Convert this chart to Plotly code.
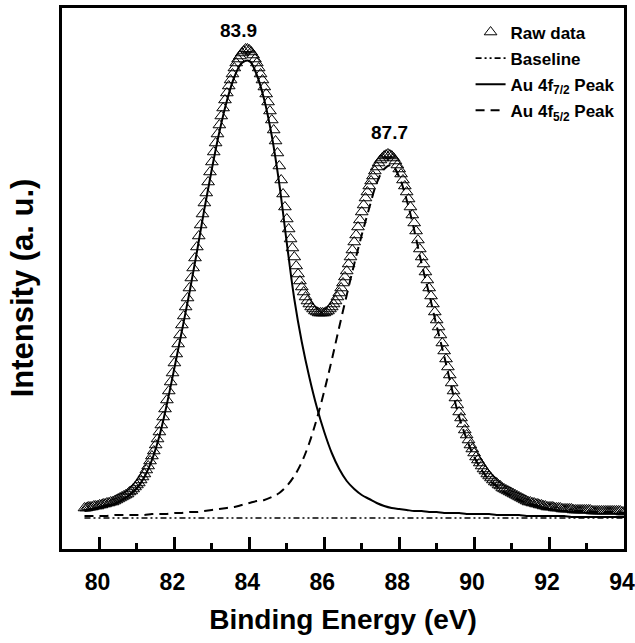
import numpy as np
import plotly.graph_objects as go

# ---- data (arbitrary intensity units) ----
x_raw = np.round(np.linspace(79.6, 94.0, 289), 2)
raw_data = [
    41, 41, 42, 42, 42, 43, 43, 43, 44, 44,
    45, 45, 46, 46, 47, 47, 48, 49, 50, 51,
    52, 53, 54, 55, 57, 58, 60, 62, 64, 66,
    69, 72, 75, 79, 83, 88, 93, 98, 104, 110,
    117, 124, 132, 140, 149, 158, 167, 176, 186, 195,
    205, 214, 224, 233, 242, 251, 261, 271, 281, 291,
    302, 313, 324, 335, 346, 356, 367, 377, 387, 397,
    406, 415, 424, 433, 441, 449, 456, 463, 469, 475,
    481, 486, 490, 493, 496, 498, 500, 500, 499, 497,
    494, 490, 486, 481, 475, 469, 462, 455, 447, 438,
    429, 419, 408, 396, 383, 369, 355, 342, 330, 320,
    310, 301, 292, 283, 275, 268, 262, 257, 252, 248,
    245, 242, 240, 238, 237, 236, 236, 236, 236, 237,
    238, 240, 242, 245, 248, 252, 256, 261, 266, 272,
    278, 285, 292, 299, 307, 314, 322, 329, 337, 344,
    351, 357, 363, 368, 373, 378, 382, 386, 389, 391,
    393, 394, 395, 394, 393, 391, 388, 384, 380, 375,
    369, 363, 357, 350, 342, 334, 326, 318, 309, 300,
    292, 285, 277, 269, 261, 253, 245, 237, 229, 222,
    214, 206, 198, 190, 182, 174, 166, 158, 151, 144,
    137, 131, 125, 119, 114, 109, 104, 100, 96, 92,
    89, 86, 83, 80, 78, 75, 73, 71, 69, 67,
    66, 64, 63, 61, 60, 59, 58, 57, 56, 55,
    54, 53, 52, 51, 50, 49, 48, 47, 47, 46,
    46, 45, 45, 44, 44, 43, 43, 42, 42, 42,
    42, 41, 41, 41, 41, 40, 40, 40, 40, 40,
    40, 39, 39, 39, 39, 39, 39, 39, 39, 39,
    39, 38, 38, 38, 38, 38, 38, 38, 38, 38,
    38, 38, 38, 38, 38, 38, 38, 37, 37,
]

x_fit = np.round(np.arange(79.6, 94.05, 0.2), 1)
peak_7_2 = [
    38, 39, 41, 43, 45, 49, 54, 61, 72, 89,
    113, 145, 181, 218, 256, 297, 340, 380, 417, 448,
    472, 486, 488, 474, 449, 413, 365, 306, 250, 207,
    172, 142, 117, 96, 80, 68, 60, 54, 50, 46,
    43, 41, 40, 39, 38, 38, 37, 37, 36, 36,
    36, 35, 35, 35, 35, 34, 34, 34, 34, 33,
    33, 33, 33, 33, 33, 32, 32, 32, 32, 32,
    32, 32, 32,
]
peak_5_2 = [
    33, 33, 33, 33, 34, 34, 34, 34, 34, 35,
    35, 35, 36, 36, 37, 37, 38, 39, 40, 41,
    42, 44, 46, 48, 49, 52, 56, 63, 73, 87,
    106, 130, 158, 189, 222, 254, 285, 314, 341, 366,
    380, 384, 372, 349, 319, 285, 255, 223, 193, 161,
    132, 110, 92, 79, 69, 63, 57, 53, 49, 46,
    44, 42, 40, 39, 38, 38, 38, 38, 37, 37,
    37, 37, 36,
]
baseline_x = [79.6, 94.0]
baseline_y = [31, 31]

peak_labels = ["83.9", "87.7"]
peak_label_x = [83.72, 87.73]
peak_label_y = [519, 417]

x_ticks = [80, 82, 84, 86, 88, 90, 92, 94]
x_minor = [81, 83, 85, 87, 89, 91, 93]

REG = "Liberation Sans, Arial, sans-serif"

fig = go.Figure()
fig.add_trace(go.Scatter(
    x=x_raw, y=raw_data, mode="markers", name="Raw data",
    marker=dict(symbol="triangle-up-open", size=11, color="black", line=dict(width=1, color="black")),
    legendgroup="a",
))
fig.add_trace(go.Scatter(
    x=baseline_x, y=baseline_y, mode="lines", name="Baseline",
    line=dict(color="black", width=1.6, dash="6px,3px,2px,3px,2px,3px"),
    legendgroup="b",
))
fig.add_trace(go.Scatter(
    x=x_fit, y=peak_7_2, mode="lines", name="Au 4f<sub>7/2</sub> Peak",
    line=dict(color="black", width=2, shape="spline"),
    legendgroup="c",
))
fig.add_trace(go.Scatter(
    x=x_fit, y=peak_5_2, mode="lines", name="Au 4f<sub>5/2</sub> Peak",
    line=dict(color="black", width=2, shape="spline", dash="9px,6px"),
    legendgroup="d",
))

for t, xx, yy in zip(peak_labels, peak_label_x, peak_label_y):
    fig.add_annotation(x=xx, y=yy, text=t, showarrow=False, xref="x", yref="y",
                       font=dict(family=REG, size=19, color="black", weight="bold"))

# y-axis title (placed as a rotated annotation to match the reference position)
fig.add_annotation(x=-0.071, y=0.482, xref="paper", yref="paper",
                   text="Intensity (a. u.)", textangle=-90, showarrow=False,
                   xanchor="center", yanchor="middle",
                   font=dict(family=REG, size=31, color="black", weight="bold"))

fig.update_layout(
    width=635, height=643,
    margin=dict(l=62, r=11, t=8, b=94, autoexpand=False),
    plot_bgcolor="white", paper_bgcolor="white",
    showlegend=True,
    legend=dict(x=0.727, y=0.988, xanchor="left", yanchor="top",
                font=dict(family=REG, size=17, color="black", weight="bold"),
                bgcolor="rgba(0,0,0,0)", tracegroupgap=1),
    xaxis=dict(
        range=[79, 94], tickmode="array", tickvals=x_ticks,
        ticktext=[str(v) for v in x_ticks],
        ticks="inside", ticklen=12, tickwidth=2.5, tickcolor="black",
        minor=dict(tickvals=x_minor, ticks="inside", ticklen=6, tickwidth=2.5, tickcolor="black"),
        showline=True, linewidth=3, linecolor="black", mirror=True,
        showgrid=False, zeroline=False, automargin=False,
        ticklabeloverflow="allow", ticklabelshift=-2,
        tickfont=dict(family=REG, size=23, color="black", weight="bold"),
        ticklabelstandoff=10,
        title=dict(text="Binding Energy (eV)", standoff=16,
                   font=dict(family=REG, size=28, color="black", weight="bold")),
    ),
    yaxis=dict(
        range=[0, 541], showticklabels=False, ticks="",
        showline=True, linewidth=3, linecolor="black", mirror=True,
        showgrid=False, zeroline=False, automargin=False,
    ),
)

fig.write_html("out.html")
